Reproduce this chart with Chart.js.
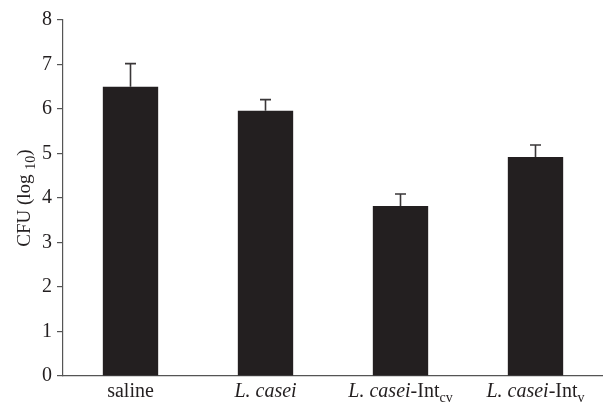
<!DOCTYPE html>
<html>
<head>
<meta charset="utf-8">
<script src="https://cdn.jsdelivr.net/npm/chart.js@4/dist/chart.umd.min.js"></script>
<style>
  html, body { margin: 0; padding: 0; background: #fff; }
  #wrap { width: 603px; height: 402px; position: relative; }
</style>
</head>
<body>
<div id="wrap"><canvas id="chart"></canvas></div>
<script>
// --- Datos --------------------------------------------------------------------
const categories = ['saline', 'L. casei', 'L. casei-Int_cv', 'L. casei-Int_v'];
const cfuMeans = [6.5, 5.96, 3.82, 4.92];
const cfuErrors = [0.52, 0.25, 0.27, 0.27];
const yTicks = [0, 1, 2, 3, 4, 5, 6, 7, 8];

// Etiquetas con cursiva y subíndices (segmentos)
const labelParts = [
  [{ t: 'saline' }],
  [{ t: 'L. casei', i: true }],
  [{ t: 'L. casei', i: true }, { t: '-Int' }, { t: 'cv', sub: true }],
  [{ t: 'L. casei', i: true }, { t: '-Int' }, { t: 'v', sub: true }]
];
const yTitleParts = [{ t: 'CFU (log ' }, { t: '10', sub: true }, { t: ')' }];

const FONT = '"Liberation Serif", "Times New Roman", serif';
const INK = '#231f20';

function partFont(p, size) {
  const s = p.sub ? Math.round(size * 0.72) : size;
  return (p.i ? 'italic ' : '') + s + 'px ' + FONT;
}

function drawRich(ctx, parts, x, y, size) {
  // x = centro, y = línea base
  let total = 0;
  parts.forEach(p => { ctx.font = partFont(p, size); total += ctx.measureText(p.t).width; });
  let cx = x - total / 2;
  ctx.textBaseline = 'alphabetic';
  ctx.textAlign = 'left';
  parts.forEach(p => {
    ctx.font = partFont(p, size);
    ctx.fillText(p.t, cx, y + (p.sub ? size * 0.25 : 0));
    cx += ctx.measureText(p.t).width;
  });
}

// --- Plugin: barras de error y textos enriquecidos ---------------------------
const extras = {
  id: 'extras',
  afterDatasetsDraw(chart) {
    const ctx = chart.ctx;
    const y = chart.scales.y;
    const meta = chart.getDatasetMeta(0);
    ctx.save();
    ctx.strokeStyle = '#3a3738';
    ctx.lineWidth = 1.6;
    meta.data.forEach((bar, i) => {
      const top = y.getPixelForValue(cfuMeans[i] + cfuErrors[i]);
      const base = y.getPixelForValue(cfuMeans[i]);
      ctx.beginPath();
      ctx.moveTo(bar.x, base);
      ctx.lineTo(bar.x, top);
      ctx.moveTo(bar.x - 5.5, top);
      ctx.lineTo(bar.x + 5.5, top);
      ctx.stroke();
    });
    ctx.restore();
  },
  afterDraw(chart) {
    const ctx = chart.ctx;
    const xs = chart.scales.x;
    const area = chart.chartArea;
    ctx.save();
    ctx.fillStyle = INK;
    labelParts.forEach((parts, i) => {
      drawRich(ctx, parts, xs.getPixelForTick(i), 397, 20);
    });
    ctx.translate(30, (area.top + area.bottom) / 2);
    ctx.rotate(-Math.PI / 2);
    drawRich(ctx, yTitleParts, 0, 0, 19);
    ctx.restore();
  }
};

// --- Gráfico ------------------------------------------------------------------
new Chart(document.getElementById('chart'), {
  type: 'bar',
  data: {
    labels: categories,
    datasets: [{
      data: cfuMeans,
      backgroundColor: INK,
      borderWidth: 0,
      categoryPercentage: 1,
      barPercentage: 0.41
    }]
  },
  options: {
    responsive: true,
    maintainAspectRatio: false,
    animation: false,
    layout: { padding: { top: 20, right: 0, left: 0, bottom: 0 } },
    plugins: { legend: { display: false }, tooltip: { enabled: false } },
    scales: {
      x: {
        grid: { display: false },
        border: { display: true, color: '#555', width: 1.2 },
        ticks: { color: 'rgba(0,0,0,0)', font: { family: FONT, size: 15 } },
        afterFit(s) { s.height = 26; }
      },
      y: {
        min: 0,
        max: 8,
        afterBuildTicks(s) { s.ticks = yTicks.map(v => ({ value: v })); },
        grid: { drawOnChartArea: false, drawTicks: true, tickLength: 6, color: '#555', lineWidth: 1.2 },
        border: { display: true, color: '#555', width: 1.2 },
        ticks: { color: INK, padding: 5, font: { family: FONT, size: 20 } },
        afterFit(s) { s.width = 63; }
      }
    }
  },
  plugins: [extras]
});
</script>
</body>
</html>
